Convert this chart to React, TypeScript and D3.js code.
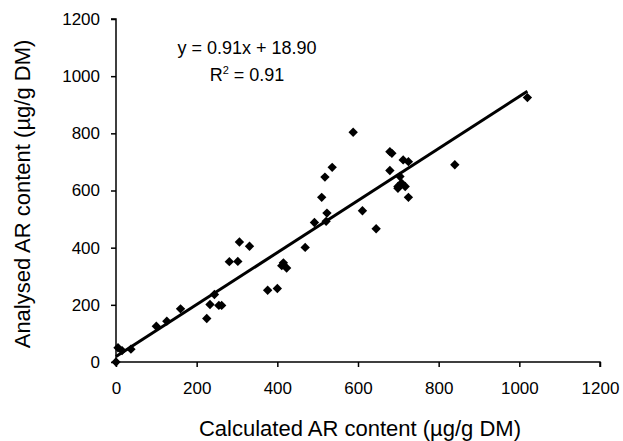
import React, { useEffect, useRef } from "react";
import * as d3 from "d3";

// calculated vs analysed AR content (µg/g DM)
const calculated = [
  0, 5, 15, 37, 100, 126, 160, 225, 233, 244, 255, 262, 281, 302, 306, 331,
  376, 400, 411, 415, 423, 469, 492, 510, 518, 521, 523, 536, 588, 611, 645,
  679, 679, 684, 699, 699, 704, 708, 712, 717, 725, 725, 840, 1020,
];
const analysed = [
  0, 50, 40, 45, 125, 143, 186, 152, 201, 236, 198, 198, 351, 352, 420, 405,
  251, 257, 337, 347, 329, 401, 488, 576, 647, 492, 521, 681, 804, 529, 466,
  736, 670, 730, 614, 608, 649, 626, 707, 614, 701, 576, 690, 925,
];
const ticks = [0, 200, 400, 600, 800, 1000, 1200];
const slope = 0.91;
const intercept = 18.9;

const App = () => {
  const svgRef = useRef<SVGSVGElement>(null);

  useEffect(() => {
    const svg = d3.select(svgRef.current);
    svg.selectAll("*").remove();

    const width = 623;
    const height = 441;
    const margin = { top: 19, right: 23, bottom: 79, left: 116 };
    const font = "Liberation Sans, Arial, sans-serif";

    const x = d3
      .scaleLinear()
      .domain([0, 1200])
      .range([margin.left, width - margin.right]);
    const y = d3
      .scaleLinear()
      .domain([0, 1200])
      .range([height - margin.bottom, margin.top]);

    // axes
    const xAxis = svg
      .append("g")
      .attr("transform", `translate(0,${y(0)})`)
      .call(
        d3.axisBottom(x).tickValues(ticks).tickFormat(d3.format("d")).tickSize(5).tickPadding(15)
      );
    const yAxis = svg
      .append("g")
      .attr("transform", `translate(${x(0)},0)`)
      .call(
        d3.axisLeft(y).tickValues(ticks).tickFormat(d3.format("d")).tickSize(5).tickPadding(11)
      );

    [xAxis, yAxis].forEach((g) => {
      g.select(".domain").attr("stroke", "#000").attr("stroke-width", 1.5);
      g.selectAll(".tick line").attr("stroke", "#000").attr("stroke-width", 1.5);
      g.selectAll(".tick text")
        .attr("font-family", font)
        .attr("font-size", 17)
        .attr("fill", "#000");
    });
    xAxis.select(".domain").attr("d", `M${x(0)},0H${x(1200)}V5`);
    yAxis.select(".domain").attr("d", `M-5,${y(1200)}H0V${y(0)}`);

    // regression line
    const x1 = d3.max(calculated) as number;
    svg
      .append("line")
      .attr("x1", x(0))
      .attr("y1", y(intercept))
      .attr("x2", x(x1))
      .attr("y2", y(slope * x1 + intercept))
      .attr("stroke", "#000")
      .attr("stroke-width", 3);

    // points
    const diamond = d3.symbol().type(d3.symbolDiamond2).size(56);
    svg
      .selectAll(".pt")
      .data(calculated)
      .join("path")
      .attr("class", "pt")
      .attr("d", diamond)
      .attr("transform", (d, i) => `translate(${x(d)},${y(analysed[i])})`)
      .attr("fill", "#000");

    // equation
    svg
      .append("text")
      .attr("font-family", font)
      .attr("font-size", 18)
      .attr("text-anchor", "middle")
      .attr("x", 247)
      .attr("y", 54)
      .text(`y = ${slope.toFixed(2)}x + ${intercept.toFixed(2)}`);
    const r2 = svg
      .append("text")
      .attr("font-family", font)
      .attr("font-size", 18)
      .attr("text-anchor", "middle")
      .attr("x", 247)
      .attr("y", 81);
    r2.append("tspan").text("R");
    r2.append("tspan").attr("font-size", 11).attr("dy", -7).text("2");
    r2.append("tspan").attr("dy", 7).text(" = 0.91");

    // axis titles
    svg
      .append("text")
      .attr("x", 360)
      .attr("y", 436)
      .attr("text-anchor", "middle")
      .attr("font-family", font)
      .attr("font-size", 22)
      .text("Calculated AR content (µg/g DM)");
    svg
      .append("text")
      .attr("transform", `translate(30,194) rotate(-90)`)
      .attr("text-anchor", "middle")
      .attr("font-family", font)
      .attr("font-size", 22)
      .text("Analysed AR content (µg/g DM)");
  }, []);

  return (
    <svg
      ref={svgRef}
      width={623}
      height={441}
      style={{ position: "absolute", left: 0, top: 0, background: "#fff" }}
    ></svg>
  );
};

export default App;
